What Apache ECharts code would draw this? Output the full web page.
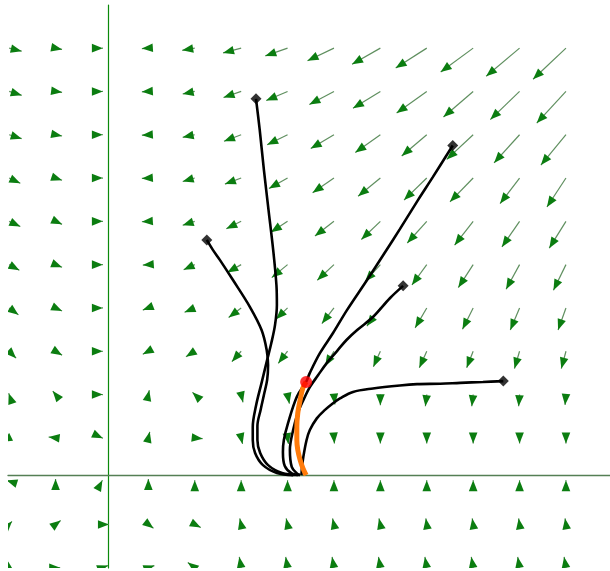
<!DOCTYPE html>
<html>
<head>
<meta charset="utf-8">
<script src="https://cdn.jsdelivr.net/npm/echarts@6/dist/echarts.min.js"></script>
<style>
  html, body { margin: 0; padding: 0; background: #ffffff; }
  #chart { width: 610px; height: 571px; }
</style>
</head>
<body>
<div id="chart"></div>
<script>
// Sample points of the direction field (one grid step = 1 unit on each axis)
const fieldX = [-2.13, -1.13, -0.13, 0.87, 1.87, 2.87, 3.87, 4.87, 5.87, 6.87, 7.87, 8.87, 9.87];
const fieldY = [9.87, 8.87, 7.87, 6.87, 5.87, 4.87, 3.87, 2.87, 1.87, 0.87, -0.13, -1.13, -2.13];

// Horizontal component of each field arrow (rows follow fieldY, columns follow fieldX)
const fieldU = [
  [0.27, 0.14, 0.02, -0.14, -0.27, -0.39, -0.48, -0.57, -0.61, -0.67, -0.70, -0.72, -0.71],
  [0.27, 0.14, 0.02, -0.14, -0.26, -0.38, -0.46, -0.53, -0.59, -0.65, -0.64, -0.63, -0.63],
  [0.27, 0.14, 0.02, -0.14, -0.26, -0.37, -0.44, -0.50, -0.54, -0.54, -0.57, -0.55, -0.54],
  [0.24, 0.14, 0.02, -0.14, -0.26, -0.35, -0.40, -0.46, -0.48, -0.49, -0.50, -0.42, -0.41],
  [0.24, 0.14, 0.02, -0.14, -0.26, -0.32, -0.36, -0.41, -0.41, -0.42, -0.40, -0.38, -0.36],
  [0.22, 0.14, 0.02, -0.12, -0.24, -0.30, -0.34, -0.36, -0.33, -0.32, -0.32, -0.29, -0.27],
  [0.20, 0.14, 0.02, -0.12, -0.22, -0.27, -0.25, -0.26, -0.29, -0.25, -0.23, -0.20, -0.17],
  [0.15, 0.14, 0.02, -0.12, -0.19, -0.20, -0.20, -0.19, -0.15, -0.16, -0.14, -0.11, -0.10],
  [-0.01, -0.06, 0.02, 0.02, -0.05, 0.04, 0.04, 0.02, 0.00, -0.03, -0.03, -0.02, -0.02],
  [-0.17, -0.15, 0.02, 0.03, 0.17, 0.03, 0.02, 0.01, 0.00, 0.00, 0.00, 0.00, 0.00],
  [-0.06, 0.00, 0.01, 0.00, 0.00, 0.00, 0.00, 0.00, 0.00, 0.00, 0.00, 0.00, 0.00],
  [0.06, 0.11, 0.15, 0.11, 0.13, -0.03, -0.03, -0.03, -0.03, -0.02, -0.02, -0.02, -0.02],
  [0.11, 0.10, 0.13, 0.13, -0.15, -0.04, -0.04, -0.04, -0.04, -0.04, -0.04, -0.04, -0.04]
];

// Vertical component of each field arrow
const fieldV = [
  [-0.07, -0.03, 0.00, -0.01, -0.05, -0.11, -0.18, -0.29, -0.37, -0.46, -0.55, -0.65, -0.72],
  [-0.09, -0.02, 0.00, -0.01, -0.06, -0.14, -0.21, -0.30, -0.39, -0.50, -0.59, -0.65, -0.73],
  [-0.09, -0.03, 0.00, -0.01, -0.06, -0.15, -0.23, -0.32, -0.41, -0.49, -0.57, -0.65, -0.70],
  [-0.12, -0.05, 0.00, -0.01, -0.08, -0.14, -0.24, -0.34, -0.42, -0.51, -0.55, -0.59, -0.67],
  [-0.12, -0.07, 0.00, -0.01, -0.09, -0.17, -0.25, -0.34, -0.42, -0.50, -0.55, -0.59, -0.62],
  [-0.13, -0.06, 0.00, -0.01, -0.12, -0.18, -0.30, -0.36, -0.39, -0.47, -0.53, -0.57, -0.59],
  [-0.16, -0.07, 0.00, -0.05, -0.10, -0.22, -0.26, -0.36, -0.42, -0.46, -0.49, -0.51, -0.51],
  [-0.16, -0.09, 0.00, -0.07, -0.13, -0.24, -0.28, -0.34, -0.36, -0.38, -0.38, -0.40, -0.40],
  [0.03, 0.08, 0.00, 0.10, 0.05, -0.18, -0.21, -0.23, -0.25, -0.27, -0.27, -0.27, -0.24],
  [-0.09, 0.02, -0.01, 0.14, -0.02, -0.14, -0.14, -0.13, -0.13, -0.13, -0.13, -0.13, -0.13],
  [0.02, 0.05, 0.02, 0.05, 0.02, 0.02, 0.02, 0.02, 0.02, 0.02, 0.02, 0.02, 0.02],
  [0.07, 0.09, 0.00, -0.09, -0.07, 0.14, 0.14, 0.14, 0.14, 0.14, 0.14, 0.14, 0.14],
  [-0.09, 0.00, 0.05, 0.05, 0.12, 0.25, 0.25, 0.25, 0.25, 0.25, 0.25, 0.25, 0.25]
];

// Solution curves, each listed from its starting point
const curveAx = [3.19, 3.27, 3.36, 3.46, 3.56, 3.63, 3.64, 3.60, 3.52, 3.43, 3.31, 3.19, 3.12, 3.12, 3.17, 3.34, 3.64, 3.99];
const curveAy = [8.70, 7.98, 7.06, 6.13, 5.21, 4.40, 3.94, 3.48, 3.06, 2.67, 2.14, 1.61, 1.12, 0.82, 0.52, 0.24, 0.06, 0.01];
const curveBx = [2.13, 2.26, 2.41, 2.69, 3.06, 3.31, 3.42, 3.45, 3.43, 3.36, 3.29, 3.22, 3.22, 3.28, 3.45, 3.75, 4.09];
const curveBy = [5.44, 5.21, 4.98, 4.52, 3.89, 3.36, 2.90, 2.55, 2.21, 1.86, 1.52, 1.14, 0.82, 0.52, 0.24, 0.06, 0.01];
const curveCx = [7.43, 7.00, 6.68, 6.29, 5.95, 5.58, 5.15, 4.85, 4.57, 4.35, 4.27, 4.07, 3.88, 3.79, 3.77, 3.81, 3.96, 4.14];
const curveCy = [7.62, 6.89, 6.36, 5.69, 5.12, 4.51, 3.82, 3.29, 2.83, 2.37, 2.16, 1.82, 1.21, 0.82, 0.54, 0.22, 0.05, 0.01];
const curveDx = [6.36, 6.08, 5.71, 5.37, 5.14, 4.94, 4.71, 4.53, 4.35, 4.21, 4.09, 3.99, 3.92, 3.96, 4.07, 4.14];
const curveDy = [4.38, 4.10, 3.66, 3.36, 3.13, 2.88, 2.59, 2.32, 2.04, 1.74, 1.44, 1.05, 0.59, 0.20, 0.05, 0.01];
const curveEx = [8.52, 8.08, 7.59, 7.16, 6.66, 6.29, 5.71, 5.28, 5.00, 4.85, 4.67, 4.50, 4.35, 4.28, 4.21, 4.18, 4.17];
const curveEy = [2.18, 2.16, 2.14, 2.12, 2.11, 2.08, 2.01, 1.93, 1.78, 1.67, 1.51, 1.32, 1.05, 0.82, 0.43, 0.17, 0.01];

// Highlighted solution
const pathX = [4.27, 4.20, 4.14, 4.09, 4.07, 4.07, 4.09, 4.14, 4.20, 4.27];
const pathY = [2.16, 2.02, 1.74, 1.44, 1.12, 0.82, 0.59, 0.36, 0.17, 0.01];

const zip = (xs, ys) => xs.map((x, i) => [x, ys[i]]);

const fieldData = [];
fieldY.forEach((y, r) => {
  fieldX.forEach((x, c) => {
    fieldData.push([x, y, fieldU[r][c], fieldV[r][c]]);
  });
});

const curves = [
  zip(curveAx, curveAy),
  zip(curveBx, curveBy),
  zip(curveCx, curveCy),
  zip(curveDx, curveDy),
  zip(curveEx, curveEy)
];

// Arrow: thin shaft from the sample point to its tip, fixed-size head ending at the tip
function renderArrow(params, api) {
  const x0 = api.value(0), y0 = api.value(1);
  const u = api.value(2), v = api.value(3);
  const p0 = api.coord([x0, y0]);
  const p1 = api.coord([x0 + u, y0 + v]);
  let dx = p1[0] - p0[0], dy = p1[1] - p0[1];
  let len = Math.hypot(dx, dy);
  if (len < 1e-6) { dx = 1; dy = 0; len = 1; }
  const ux = dx / len, uy = dy / len;
  const headLen = 11, headHalf = 4.3;
  const bx = p1[0] - ux * headLen, by = p1[1] - uy * headLen;
  const head = [
    [p1[0], p1[1]],
    [bx - uy * headHalf, by + ux * headHalf],
    [bx + uy * headHalf, by - ux * headHalf]
  ];
  return {
    type: 'group',
    children: [
      { type: 'line', shape: { x1: p0[0], y1: p0[1], x2: p1[0], y2: p1[1] },
        style: { stroke: '#5f8f5f', lineWidth: 1.2 } },
      { type: 'polygon', shape: { points: head }, style: { fill: '#0b7d10' } }
    ]
  };
}

const series = [
  {
    type: 'custom',
    renderItem: renderArrow,
    data: fieldData,
    clip: true,
    silent: true,
    z: 1
  }
];

curves.forEach(pts => {
  series.push({
    type: 'line',
    data: pts,
    smooth: 0.35,
    showSymbol: false,
    symbol: 'none',
    lineStyle: { color: '#000000', width: 2.6 },
    z: 3,
    silent: true
  });
});

series.push({
  type: 'line',
  data: zip(pathX, pathY),
  smooth: 0.35,
  showSymbol: false,
  symbol: 'none',
  lineStyle: { color: '#ff7b0b', width: 5 },
  z: 4,
  silent: true
});

series.push({
  type: 'scatter',
  data: curves.map(c => c[0]),
  symbol: 'diamond',
  symbolSize: 11,
  itemStyle: { color: '#000000' },
  z: 5,
  silent: true
});

series.push({
  type: 'scatter',
  data: [[pathX[0], pathY[0]]],
  symbol: 'circle',
  symbolSize: 12,
  itemStyle: { color: '#ff0000' },
  z: 6,
  silent: true
});

const chart = echarts.init(document.getElementById('chart'), null, { renderer: 'canvas' });
chart.setOption({
  animation: false,
  backgroundColor: '#ffffff',
  grid: { left: 8, right: 0, top: 5, bottom: 3, containLabel: false },
  xAxis: {
    type: 'value',
    min: -2.155,
    max: 10.819,
    axisLine: { show: true, onZero: true, lineStyle: { color: '#557f55', width: 1.3 } },
    axisTick: { show: false },
    axisLabel: { show: false },
    splitLine: { show: false }
  },
  yAxis: {
    type: 'value',
    min: -2.136,
    max: 10.866,
    axisLine: { show: true, onZero: true, lineStyle: { color: '#0a8a0a', width: 1.2 } },
    axisTick: { show: false },
    axisLabel: { show: false },
    splitLine: { show: false }
  },
  series: series
});
</script>
</body>
</html>
